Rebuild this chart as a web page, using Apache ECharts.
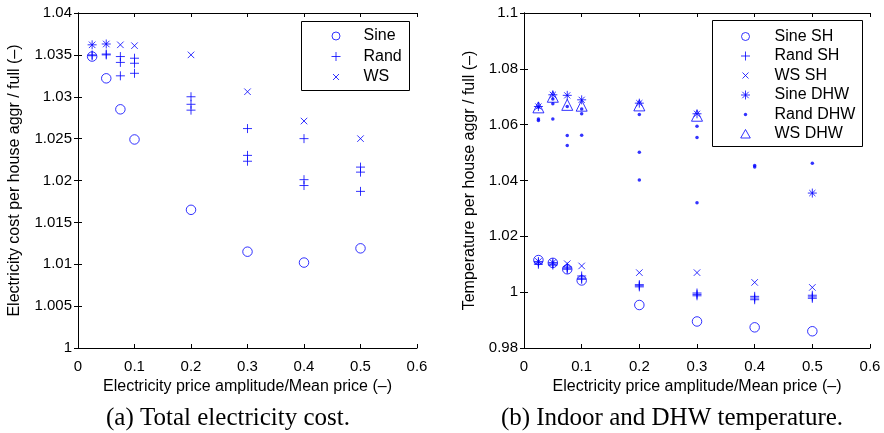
<!DOCTYPE html>
<html>
<head>
<meta charset="utf-8">
<script src="https://cdn.jsdelivr.net/npm/echarts@6/dist/echarts.min.js"></script>
<style>
  html, body { margin: 0; padding: 0; background: #fff; }
  #chart { width: 884px; height: 433px; }
</style>
</head>
<body>
<div id="chart"></div>
<script>
// Price amplitude relative to mean price (x values shared by both panels)
const amplitudes = [0.025, 0.05, 0.075, 0.1, 0.2, 0.3, 0.4, 0.5];
const xTicks = [0, 0.1, 0.2, 0.3, 0.4, 0.5, 0.6];

// (a) Electricity cost per house, aggregated / full
const costSine = [1.0348, 1.0322, 1.0285, 1.0249, 1.0165, 1.0115, 1.0102, 1.0119];
const costWS = [1.0362, 1.0363, 1.0362, 1.0361, 1.0350, 1.0306, 1.0271, 1.0250];
const costRandRun1 = [1.0362, 1.0363, 1.0348, 1.0346, 1.0300, 1.0262, 1.0250, 1.0216];
const costRandRun2 = [1.0350, 1.0351, 1.0341, 1.0340, 1.0291, 1.0230, 1.0201, 1.0210];
const costRandRun3 = [1.0349, 1.0350, 1.0325, 1.0328, 1.0284, 1.0223, 1.0194, 1.0187];
const costTicks = [1, 1.005, 1.01, 1.015, 1.02, 1.025, 1.03, 1.035, 1.04];

// (b) Indoor (SH) and domestic hot water (DHW) temperature, aggregated / full
const tempSineSH = [1.0115, 1.0105, 1.0082, 1.0042, 0.9954, 0.9895, 0.9874, 0.9860];
const tempWSSH = [1.0110, 1.0106, 1.0102, 1.0094, 1.0070, 1.0070, 1.0035, 1.0017];
const tempRandSHRun1 = [1.0110, 1.0106, 1.0090, 1.0058, 1.0027, 0.9997, 0.9985, 0.9989];
const tempRandSHRun2 = [1.0105, 1.0101, 1.0086, 1.0050, 1.0023, 0.9992, 0.9979, 0.9983];
const tempRandSHRun3 = [1.0100, 1.0097, 1.0082, 1.0046, 1.0019, 0.9987, 0.9973, 0.9978];
const tempSineDHW = [1.0665, 1.0707, 1.0705, 1.0689, 1.0677, 1.0639, 1.0620, 1.0355];
const tempWSDHW = [1.0662, 1.0700, 1.0671, 1.0668, 1.0669, 1.0632, 1.0610, 1.0600];
const tempRandDHWRun1 = [1.0662, 1.0692, 1.0665, 1.0656, 1.0636, 1.0594, 1.0580, 1.0580];
const tempRandDHWRun2 = [1.0620, 1.0675, 1.0561, 1.0639, 1.0501, 1.0554, 1.0454, 1.0550];
const tempRandDHWRun3 = [1.0615, 1.0620, 1.0525, 1.0562, 1.0402, 1.0320, 1.0448, 1.0462];
const tempTicks = [0.98, 1, 1.02, 1.04, 1.06, 1.08, 1.1];

const xLabel = 'Electricity price amplitude/Mean price (\u2013)';
const costLabel = 'Electricity cost per house aggr / full (\u2013)';
const tempLabel = 'Temperature per house aggr / full (\u2013)';
const captionA = '(a) Total electricity cost.';
const captionB = '(b) Indoor and DHW temperature.';

const BLUE = '#0000ff';
const FONT = "'Liberation Sans', Arial, sans-serif";
const SERIF = "'Liberation Serif', serif";

// MATLAB-like marker outlines
const SYM_CIRCLE = 'path://M10,5A5,5,0,1,1,0,5A5,5,0,1,1,10,5Z';
const SYM_PLUS = 'path://M5,0L5,10M0,5L10,5';
const SYM_CROSS = 'path://M0,0L10,10M0,10L10,0';
const SYM_STAR = 'path://M5,0L5,10M0,5L10,5M1.6,1.6L8.4,8.4M1.6,8.4L8.4,1.6';
const SYM_TRI = 'path://M5,0L10,8.66L0,8.66Z';

// Legend glyphs drawn inside a fixed 10x10 frame so each keeps its own size
const ICON_CIRCLE = 'path://M0,0M10,10M9,5A4,4,0,1,1,1,5A4,4,0,1,1,9,5Z';
const ICON_PLUS = 'path://M0,0M10,10M5,0.5L5,9.5M0.5,5L9.5,5';
const ICON_CROSS = 'path://M0,0M10,10M2,2L8,8M2,8L8,2';
const ICON_STAR = 'path://M0,0M10,10M5,0.5L5,9.5M0.5,5L9.5,5M1.8,1.8L8.2,8.2M1.8,8.2L8.2,1.8';
const ICON_DOT = 'path://M0,0M10,10M6.7,5A1.7,1.7,0,1,1,3.3,5A1.7,1.7,0,1,1,6.7,5Z';
const ICON_TRI = 'path://M0,0M10,10M5,0.5L9.8,9L0.2,9Z';

function points(xs, ...runs) {
  const out = [];
  runs.forEach(run => run.forEach((v, i) => out.push([xs[i], v])));
  return out;
}

function outlined(name, gridIdx, symbol, size, data) {
  return {
    type: 'scatter', name, data, symbol, symbolSize: size,
    xAxisIndex: gridIdx * 2, yAxisIndex: gridIdx * 2,
    itemStyle: { color: 'none', borderColor: BLUE, borderWidth: 1 },
    emphasis: { disabled: true },
    silent: true, animation: false
  };
}

function dots(name, gridIdx, data) {
  return {
    type: 'scatter', name, data, symbol: 'circle', symbolSize: 3.5,
    xAxisIndex: gridIdx * 2, yAxisIndex: gridIdx * 2,
    itemStyle: { color: BLUE, borderWidth: 0 },
    emphasis: { disabled: true },
    silent: true, animation: false
  };
}

const axisLineStyle = { show: true, lineStyle: { color: '#000', width: 1 } };
const tickStyle = { show: true, inside: true, length: 4, lineStyle: { color: '#000', width: 1 } };
const tickLabelStyle = { color: '#000', fontSize: 15, fontFamily: FONT };
const nameStyle = { color: '#000', fontSize: 16, fontFamily: FONT };

function xAxes(gridIndex) {
  const base = {
    type: 'value', gridIndex, min: xTicks[0], max: xTicks[xTicks.length - 1],
    interval: xTicks[1] - xTicks[0],
    axisLine: axisLineStyle, axisTick: tickStyle, splitLine: { show: false }
  };
  return [
    Object.assign({}, base, {
      position: 'bottom',
      axisLabel: Object.assign({ margin: 11 }, tickLabelStyle),
      name: xLabel, nameLocation: 'middle', nameGap: 29,
      nameTextStyle: nameStyle
    }),
    Object.assign({}, base, { position: 'top', axisLabel: { show: false } })
  ];
}

function yAxes(gridIndex, ticks, name, nameGap) {
  const base = {
    type: 'value', gridIndex, min: ticks[0], max: ticks[ticks.length - 1],
    interval: +(ticks[1] - ticks[0]).toFixed(6),
    axisLine: axisLineStyle, axisTick: tickStyle, splitLine: { show: false }
  };
  return [
    Object.assign({}, base, {
      position: 'left',
      axisLabel: Object.assign({ margin: 6 }, tickLabelStyle),
      name, nameLocation: 'middle', nameGap, nameTextStyle: nameStyle
    }),
    Object.assign({}, base, { position: 'right', axisLabel: { show: false } })
  ];
}

const legendBase = {
  orient: 'vertical', selectedMode: false, padding: 0,
  itemHeight: 10, borderWidth: 0, backgroundColor: 'transparent', z: 10,
  itemStyle: { borderWidth: 1 },
  textStyle: { color: '#000', fontSize: 16, fontFamily: FONT, lineHeight: 16 }
};

// White framed panel behind each legend, above the markers
function legendFrame(x1, y1, x2, y2) {
  return { type: 'rect', z: 5, silent: true,
           shape: { x: x1, y: y1, width: x2 - x1, height: y2 - y1 },
           style: { fill: '#fff', stroke: '#000', lineWidth: 1 } };
}

const option = {
  animation: false,
  backgroundColor: '#fff',
  grid: [
    { left: 78, top: 13, width: 339, height: 335 },
    { left: 524, top: 13, width: 346, height: 335 }
  ],
  xAxis: [...xAxes(0), ...xAxes(1)],
  yAxis: [...yAxes(0, costTicks, costLabel, 55), ...yAxes(1, tempTicks, tempLabel, 46)],
  legend: [
    Object.assign({}, legendBase, {
      left: 328.5, top: 28, itemGap: 4.5, itemWidth: 45,
      data: [
        { name: 'Sine', icon: ICON_CIRCLE },
        { name: 'Rand', icon: ICON_PLUS },
        { name: 'WS', icon: ICON_CROSS }
      ]
    }),
    Object.assign({}, legendBase, {
      left: 738, top: 28.5, itemGap: 3.5, itemWidth: 48,
      data: [
        { name: 'Sine SH', icon: ICON_CIRCLE },
        { name: 'Rand SH', icon: ICON_PLUS },
        { name: 'WS SH', icon: ICON_CROSS },
        { name: 'Sine DHW', icon: ICON_STAR },
        { name: 'Rand DHW', icon: ICON_DOT },
        { name: 'WS DHW', icon: ICON_TRI }
      ]
    })
  ],
  series: [
    outlined('Sine', 0, SYM_CIRCLE, 9.5, points(amplitudes, costSine)),
    outlined('Rand', 0, SYM_PLUS, 9, points(amplitudes, costRandRun1, costRandRun2, costRandRun3)),
    outlined('WS', 0, SYM_CROSS, 6.5, points(amplitudes, costWS)),

    outlined('Sine SH', 1, SYM_CIRCLE, 9.5, points(amplitudes, tempSineSH)),
    outlined('Rand SH', 1, SYM_PLUS, 9, points(amplitudes, tempRandSHRun1, tempRandSHRun2, tempRandSHRun3)),
    outlined('WS SH', 1, SYM_CROSS, 6.5, points(amplitudes, tempWSSH)),
    outlined('Sine DHW', 1, SYM_STAR, 9, points(amplitudes, tempSineDHW)),
    dots('Rand DHW', 1, points(amplitudes, tempRandDHWRun1, tempRandDHWRun2, tempRandDHWRun3)),
    outlined('WS DHW', 1, SYM_TRI, 11, points(amplitudes, tempWSDHW))
  ],
  graphic: [
    legendFrame(301.5, 21.5, 409.5, 90.5),
    legendFrame(712.5, 20.5, 862.5, 146.5),
    { type: 'text', x: 228, y: 418, silent: true,
      style: { text: captionA, font: '25px ' + SERIF, fill: '#000',
               textAlign: 'center', textVerticalAlign: 'middle' } },
    { type: 'text', x: 672, y: 418, silent: true,
      style: { text: captionB, font: '25px ' + SERIF, fill: '#000',
               textAlign: 'center', textVerticalAlign: 'middle' } }
  ]
};

const chart = echarts.init(document.getElementById('chart'), null, { renderer: 'canvas' });
chart.setOption(option);
</script>
</body>
</html>
